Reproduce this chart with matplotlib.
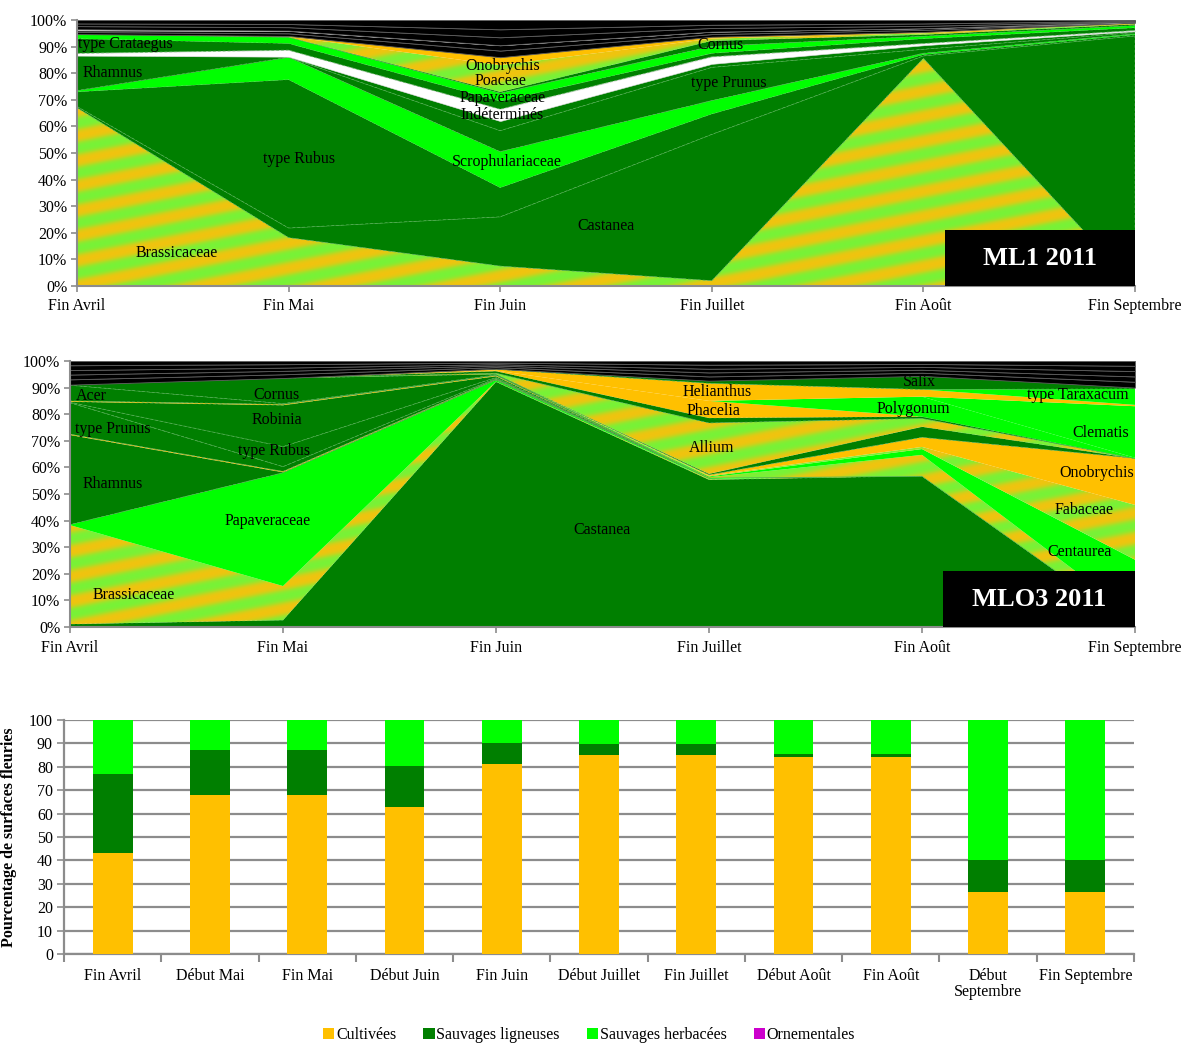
import numpy as np
import matplotlib
matplotlib.use('Agg')
import matplotlib.pyplot as plt
from matplotlib.patches import Rectangle, Patch

plt.rcParams['font.family'] = ['Liberation Serif', 'DejaVu Serif']

# ---------------- data ----------------
dates = ['Fin Avril', 'Fin Mai', 'Fin Juin', 'Fin Juillet', 'Fin Août', 'Fin Septembre']

# ML1 2011 (bottom -> top), % of flowered surface
ml1_brassicaceae = [67.0, 18.2, 7.5, 2.0, 85.6, 0.0]
ml1_castanea = [0.5, 3.6, 18.5, 55.0, 0.9, 94.0]
ml1_rubus = [5.5, 55.8, 11.0, 7.7, 0.5, 0.5]
ml1_scrophulariaceae = [0.5, 8.4, 13.5, 5.0, 0.5, 0.3]
ml1_prunus = [0.0, 0.0, 7.9, 12.5, 1.5, 0.5]
ml1_rhamnus = [13.1, 0.2, 3.6, 1.3, 1.5, 0.5]
ml1_indetermines = [0.9, 2.5, 4.5, 2.7, 0.7, 0.3]
ml1_crataegus = [5.5, 2.5, 3.0, 1.3, 1.8, 1.0]
ml1_papaveraceae = [1.7, 2.3, 3.0, 2.6, 0.9, 0.8]
ml1_cornus = [0.0, 0.1, 0.5, 2.1, 0.6, 0.5]
ml1_poaceae = [0.0, 0.2, 10.0, 0.8, 0.5, 0.3]
ml1_onobrychis = [0.0, 0.2, 3.0, 0.7, 0.5, 0.3]
ml1_autres_1 = [0.8, 1.0, 2.5, 1.0, 0.8, 0.15]
ml1_autres_2 = [0.6, 0.9, 2.0, 0.9, 0.6, 0.15]
ml1_autres_3 = [0.4, 0.1, 0.0, 0.0, 0.0, 0.0]
ml1_autres_4 = [1.2, 1.3, 3.0, 1.4, 0.9, 0.2]
ml1_autres_5 = [1.0, 1.2, 3.0, 1.2, 0.9, 0.2]
ml1_autres_6 = [1.3, 1.5, 3.5, 1.8, 1.3, 0.3]

# MLO3 2011 (bottom -> top)
mlo3_castanea = [1.1, 2.6, 92.2, 55.4, 56.8, 0.0]
mlo3_brassicaceae = [37.2, 12.8, 0.1, 0.3, 0.0, 0.0]
mlo3_papaveraceae = [0.2, 42.6, 0.5, 0.4, 0.0, 0.0]
mlo3_rhamnus = [33.7, 0.2, 0.3, 0.0, 0.0, 0.0]
mlo3_cultivee_1 = [0.3, 0.3, 0.1, 0.0, 0.0, 0.0]
mlo3_prunus = [11.8, 1.8, 0.3, 0.0, 0.0, 0.0]
mlo3_rubus = [0.2, 7.5, 0.3, 0.0, 0.0, 0.0]
mlo3_robinia = [0.2, 15.6, 0.5, 0.0, 0.0, 0.0]
mlo3_cultivee_2 = [0.3, 0.3, 0.3, 0.0, 0.0, 0.0]
mlo3_acer = [5.9, 0.3, 0.2, 0.0, 0.0, 0.0]
mlo3_cornus = [0.2, 9.6, 0.3, 0.0, 0.0, 0.0]
mlo3_cultivee_3 = [0.0, 0.0, 0.0, 0.2, 7.9, 4.0]
mlo3_centaurea = [0.0, 0.0, 0.0, 0.3, 2.2, 21.3]
mlo3_fabaceae = [0.0, 0.0, 0.0, 0.3, 0.8, 20.6]
mlo3_onobrychis = [0.0, 0.0, 0.0, 0.3, 3.6, 17.5]
mlo3_ligneuse_1 = [0.0, 0.0, 0.0, 0.4, 4.0, 0.0]
mlo3_allium = [0.0, 0.0, 0.3, 19.1, 3.1, 0.0]
mlo3_ligneuse_2 = [0.0, 0.0, 0.8, 1.9, 0.7, 0.0]
mlo3_phacelia = [0.0, 0.0, 0.2, 6.4, 0.0, 0.0]
mlo3_polygonum = [0.0, 0.0, 0.0, 0.0, 7.5, 0.2]
mlo3_clematis = [0.0, 0.0, 0.0, 0.0, 0.0, 19.4]
mlo3_helianthus = [0.0, 0.0, 0.5, 6.6, 2.7, 0.5]
mlo3_taraxacum = [0.0, 0.0, 0.0, 0.0, 0.0, 6.0]
mlo3_salix = [0.0, 0.0, 0.2, 1.0, 5.1, 0.5]
mlo3_autres_1 = [2.0, 1.4, 0.6, 1.6, 1.2, 2.2]
mlo3_autres_2 = [1.8, 1.3, 0.6, 1.5, 1.1, 2.0]
mlo3_autres_3 = [1.7, 1.2, 0.5, 1.4, 1.1, 2.0]
mlo3_autres_4 = [1.8, 1.3, 0.6, 1.5, 1.1, 2.0]
mlo3_autres_5 = [1.6, 1.2, 0.6, 1.4, 1.1, 1.8]

# Bar chart
bar_labels = ['Fin Avril', 'Début Mai', 'Fin Mai', 'Début Juin', 'Fin Juin', 'Début Juillet',
              'Fin Juillet', 'Début Août', 'Fin Août', 'Début\nSeptembre', 'Fin Septembre']
cultivees = [43.3, 68.0, 68.0, 63.0, 81.0, 85.0, 85.0, 84.0, 84.0, 26.6, 26.6]
ligneuses = [33.6, 19.0, 19.0, 17.5, 9.0, 4.7, 4.7, 1.5, 1.5, 13.6, 13.6]
herbacees = [23.1, 13.0, 13.0, 19.5, 10.0, 10.3, 10.3, 14.5, 14.5, 59.8, 59.8]
ornementales = [0, 0, 0, 0, 0, 0, 0, 0, 0, 0, 0]
bar_series = ['Cultivées', 'Sauvages ligneuses', 'Sauvages herbacées', 'Ornementales']

# ---------------- styles ----------------
COL = {'dk': '#007F00', 'br': '#00FF00', 'or': '#FFC000', 'wh': '#FFFFFF', 'bk': '#000000'}

ml1_series = [
    ('Brassicaceae', ml1_brassicaceae, 'pat'),
    ('Castanea', ml1_castanea, 'dk'),
    ('type Rubus', ml1_rubus, 'dk'),
    ('Scrophulariaceae', ml1_scrophulariaceae, 'br'),
    ('type Prunus', ml1_prunus, 'dk'),
    ('Rhamnus', ml1_rhamnus, 'dk'),
    ('Indéterminés', ml1_indetermines, 'wh'),
    ('type Crataegus', ml1_crataegus, 'dk'),
    ('Papaveraceae', ml1_papaveraceae, 'br'),
    ('Cornus', ml1_cornus, 'dk'),
    ('Poaceae', ml1_poaceae, 'pat'),
    ('Onobrychis', ml1_onobrychis, 'or'),
    ('Autres 1', ml1_autres_1, 'bk'),
    ('Autres 2', ml1_autres_2, 'bk'),
    ('Autres 3', ml1_autres_3, 'wh'),
    ('Autres 4', ml1_autres_4, 'bk'),
    ('Autres 5', ml1_autres_5, 'bk'),
    ('Autres 6', ml1_autres_6, 'bk'),
]

mlo3_series = [
    ('Castanea', mlo3_castanea, 'dk'),
    ('Brassicaceae', mlo3_brassicaceae, 'pat'),
    ('Papaveraceae', mlo3_papaveraceae, 'br'),
    ('Rhamnus', mlo3_rhamnus, 'dk'),
    ('Cultivée 1', mlo3_cultivee_1, 'or'),
    ('type Prunus', mlo3_prunus, 'dk'),
    ('type Rubus', mlo3_rubus, 'dk'),
    ('Robinia', mlo3_robinia, 'dk'),
    ('Cultivée 2', mlo3_cultivee_2, 'or'),
    ('Acer', mlo3_acer, 'dk'),
    ('Cornus', mlo3_cornus, 'dk'),
    ('Cultivée 3', mlo3_cultivee_3, 'pat'),
    ('Centaurea', mlo3_centaurea, 'br'),
    ('Fabaceae', mlo3_fabaceae, 'pat'),
    ('Onobrychis', mlo3_onobrychis, 'or'),
    ('Ligneuse 1', mlo3_ligneuse_1, 'dk'),
    ('Allium', mlo3_allium, 'pat'),
    ('Ligneuse 2', mlo3_ligneuse_2, 'dk'),
    ('Phacelia', mlo3_phacelia, 'or'),
    ('Polygonum', mlo3_polygonum, 'br'),
    ('Clematis', mlo3_clematis, 'br'),
    ('Helianthus', mlo3_helianthus, 'or'),
    ('type Taraxacum', mlo3_taraxacum, 'br'),
    ('Salix', mlo3_salix, 'dk'),
    ('Autres 1', mlo3_autres_1, 'bk'),
    ('Autres 2', mlo3_autres_2, 'bk'),
    ('Autres 3', mlo3_autres_3, 'bk'),
    ('Autres 4', mlo3_autres_4, 'bk'),
    ('Autres 5', mlo3_autres_5, 'bk'),
]

# label positions (date index, %)
ml1_labels = [
    ('type Crataegus', 0.23, 91.0), ('Rhamnus', 0.17, 80.0), ('type Rubus', 1.05, 47.7),
    ('Brassicaceae', 0.47, 12.4), ('Onobrychis', 2.01, 82.7), ('Poaceae', 2.0, 77.1),
    ('Papaveraceae', 2.01, 70.7), ('Indéterminés', 2.01, 64.3), ('Scrophulariaceae', 2.03, 46.6),
    ('Castanea', 2.5, 22.6), ('Cornus', 3.04, 90.6), ('type Prunus', 3.08, 76.3),
]
mlo3_labels = [
    ('Acer', 0.10, 86.8), ('Cornus', 0.97, 87.2), ('Robinia', 0.97, 77.8),
    ('type Prunus', 0.20, 74.4), ('type Rubus', 0.96, 66.2), ('Rhamnus', 0.20, 53.8),
    ('Papaveraceae', 0.93, 39.8), ('Brassicaceae', 0.30, 12.0), ('Castanea', 2.50, 36.5),
    ('Helianthus', 3.04, 88.3), ('Phacelia', 3.02, 81.2), ('Allium', 3.01, 67.3),
    ('Salix', 3.99, 92.1), ('Polygonum', 3.96, 82.0), ('type Taraxacum', 4.73, 87.2),
    ('Clematis', 4.84, 72.9), ('Onobrychis', 4.82, 57.9), ('Fabaceae', 4.76, 44.0),
    ('Centaurea', 4.74, 28.2),
]

W, H = 1184, 1043
fig = plt.figure(figsize=(W / 100, H / 100), dpi=100)


def ax_px(l, t, r, b):
    return fig.add_axes([l / W, 1 - b / H, (r - l) / W, (b - t) / H])


def stripes(w, h):
    # texture for the "cultivated" pattern fill
    yy, xx = np.mgrid[0:h, 0:w].astype(float)
    yy = h - 1 - yy
    u = yy - 0.2 * xx
    c = np.cos(2 * np.pi * u / 25.0)
    wgt = 0.5 + 0.5 * np.tanh(1.1 * c)
    orange = np.array([255, 190, 10]) / 255
    green = np.array([105, 248, 60]) / 255
    return wgt[..., None] * orange + (1 - wgt[..., None]) * green


def area_panel(ax, series, labels, title, wpx, hpx):
    x = np.arange(len(dates))
    data = np.array([s[1] for s in series], float)
    data = data / data.sum(axis=0) * 100
    cum = np.vstack([np.zeros(len(dates)), np.cumsum(data, axis=0)])
    img = stripes(wpx, hpx)
    for i, (name, vals, style) in enumerate(series):
        lo, hi = cum[i], cum[i + 1]
        if style == 'pat':
            coll = ax.fill_between(x, lo, hi, facecolor='none', edgecolor='none', lw=0, zorder=2)
            im = ax.imshow(img, extent=(0, 5, 0, 100), aspect='auto', origin='upper',
                           zorder=2, interpolation='bilinear')
            im.set_clip_path(coll.get_paths()[0], transform=ax.transData)
        elif style == 'dk':
            ax.fill_between(x, lo, hi, facecolor=COL['dk'], edgecolor='#55B055', lw=0.5,
                            linestyle=(0, (4, 3)), zorder=2)
        elif style == 'bk':
            ax.fill_between(x, lo, hi, facecolor=COL['bk'], edgecolor='#5E5E5E', lw=0.6, zorder=2)
        elif style == 'wh':
            ax.fill_between(x, lo, hi, facecolor=COL['wh'], edgecolor='#D8D8D8', lw=0.4, zorder=2)
        else:
            ax.fill_between(x, lo, hi, facecolor=COL[style], edgecolor='none', lw=0, zorder=2)
    for t, xd, yd in labels:
        ax.text(xd, yd, t, ha='center', va='center', fontsize=11.5, color='black', zorder=5)
    ax.set_xlim(0, 5)
    ax.set_ylim(0, 100)
    ax.set_xticks(range(len(dates)))
    ax.set_xticklabels(dates, fontsize=11.5)
    ax.set_yticks(range(0, 101, 10))
    ax.set_yticklabels([f'{v}%' for v in range(0, 101, 10)], fontsize=11.5)
    for s in ['top', 'right']:
        ax.spines[s].set_visible(False)
    for s in ['left', 'bottom']:
        ax.spines[s].set_color('#8C8C8C')
        ax.spines[s].set_linewidth(1.5)
        ax.spines[s].set_zorder(4)
    ax.tick_params(colors='#8C8C8C', labelcolor='black', length=4, width=1.2)
    ax.tick_params(axis='x', pad=5)
    ax.tick_params(axis='y', pad=3)
    ax.add_patch(Rectangle((0.82, 0.0), 0.18, 0.21, transform=ax.transAxes,
                           facecolor='black', edgecolor='none', zorder=6))
    ax.text(0.91, 0.105, title, transform=ax.transAxes, ha='center', va='center',
            color='white', fontsize=19, fontweight='bold', zorder=7)


ax1 = ax_px(77, 20, 1135, 286)
area_panel(ax1, ml1_series, ml1_labels, 'ML1 2011', 1058, 266)
ax2 = ax_px(70, 361, 1135, 627)
area_panel(ax2, mlo3_series, mlo3_labels, 'MLO3 2011', 1065, 266)

# ---------------- bar chart ----------------
ax3 = ax_px(64, 720, 1134, 954)
xb = np.arange(len(bar_labels))
bw = 0.41
bar_cols = ['#FFC000', '#007F00', '#00FF00', '#CC00CC']
bottom = np.zeros(len(bar_labels))
for vals, col in zip([cultivees, ligneuses, herbacees, ornementales], bar_cols):
    ax3.bar(xb, vals, bw, bottom=bottom, color=col, zorder=3, edgecolor='none')
    bottom = bottom + np.array(vals, float)
ax3.set_xlim(-0.5, len(bar_labels) - 0.5)
ax3.set_ylim(0, 100)
ax3.set_yticks(range(0, 101, 10))
ax3.yaxis.grid(True, color='#8C8C8C', lw=1.6, zorder=0)
ax3.set_axisbelow(True)
ax3.set_xticks(xb)
ax3.set_xticklabels(bar_labels, fontsize=11.5, linespacing=1.05)
ax3.set_xticks(np.arange(-0.5, len(bar_labels), 1.0), minor=True)
ax3.tick_params(axis='x', which='major', length=0, pad=10)
ax3.tick_params(axis='x', which='minor', length=6, width=1.5, color='#8C8C8C')
ax3.tick_params(axis='y', length=5, width=1.2, color='#8C8C8C', labelsize=11.5, pad=3)
for s in ['top', 'right']:
    ax3.spines[s].set_visible(False)
for s in ['left', 'bottom']:
    ax3.spines[s].set_color('#8C8C8C')
    ax3.spines[s].set_linewidth(1.6)
ax3.set_ylabel('Pourcentage de surfaces fleuries', fontsize=11.5, fontweight='bold')
ax3.yaxis.set_label_coords((17 - 64) / 1070, 0.5)

handles = [Patch(facecolor=c, edgecolor='none', label=l) for c, l in zip(bar_cols, bar_series)]
fig.legend(handles=handles, loc='center', bbox_to_anchor=(589 / W, 1 - 1035 / H), ncol=4,
           frameon=False, fontsize=11.5, handlelength=0.7, handleheight=0.7,
           handletextpad=0.1, columnspacing=1.7, borderpad=0)

fig.savefig('out.png', dpi=100)
